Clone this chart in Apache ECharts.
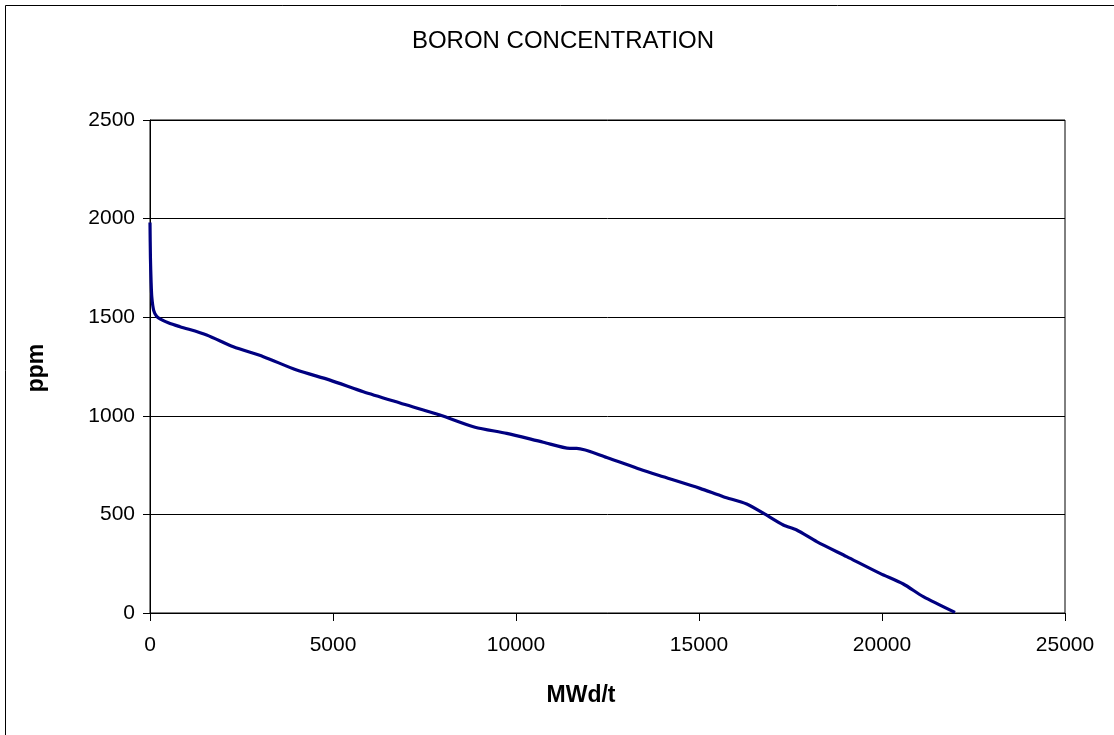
<!DOCTYPE html>
<html>
<head>
<meta charset="utf-8">
<script src="https://cdn.jsdelivr.net/npm/echarts@6/dist/echarts.min.js"></script>
<style>
html,body{margin:0;padding:0;background:#fff;}
#c{width:1114px;height:735px;}
</style>
</head>
<body>
<div id="c"></div>
<script>
const burnup = [0, 12, 30, 50, 100, 180, 273, 500, 820, 1548, 2277, 3097, 4007, 4918, 5829, 6831, 7923, 8880, 9746, 10746, 11475, 11658, 12478, 13388, 14025, 15027, 15664, 16303, 16757, 17303, 17669, 18216, 19036, 19945, 20582, 21128, 21995];
const boron = [1980, 1800, 1680, 1600, 1535, 1505, 1492, 1472, 1452, 1410, 1350, 1300, 1232, 1181, 1122, 1065, 1004, 942, 911, 866, 835, 835, 789, 729, 691, 632, 590, 553, 506, 446, 421, 362, 286, 201, 147, 83, 3];
const xTicks = [0, 5000, 10000, 15000, 20000, 25000];
const yTicks = [0, 500, 1000, 1500, 2000, 2500];

const chart = echarts.init(document.getElementById('c'));
const font = '"Liberation Sans", Arial, sans-serif';
chart.setOption({
  animation: false,
  backgroundColor: '#fff',
  textStyle: { fontFamily: font },
  grid: { left: 150, right: 49, top: 120, bottom: 122, show: true, borderColor: '#000', borderWidth: 1 },
  xAxis: {
    type: 'value', min: xTicks[0], max: xTicks[xTicks.length - 1], interval: 5000,
    axisLine: { show: true, onZero: false, lineStyle: { color: '#000', width: 1 } },
    axisTick: { show: true, length: 8, lineStyle: { color: '#000' } },
    axisLabel: { color: '#000', fontSize: 21, margin: 22, fontFamily: font, formatter: v => String(v) },
    splitLine: { show: false }
  },
  yAxis: {
    type: 'value', min: yTicks[0], max: yTicks[yTicks.length - 1], interval: 500,
    axisLine: { show: true, lineStyle: { color: '#000', width: 1 } },
    axisTick: { show: true, length: 7, lineStyle: { color: '#000' } },
    axisLabel: { color: '#000', fontSize: 21, margin: 15, fontFamily: font, formatter: v => String(v) },
    splitLine: { show: true, lineStyle: { color: '#000', width: 1 } }
  },
  graphic: [
    { type: 'rect', shape: { x: 5.5, y: 5.5, width: 1300, height: 900 }, style: { fill: 'none', stroke: '#000', lineWidth: 1 }, silent: true },
    { type: 'text', x: 563, y: 41, style: { text: 'BORON CONCENTRATION', fontSize: 24, fontFamily: font, fill: '#000', align: 'center', verticalAlign: 'middle' } },
    { type: 'text', x: 581, y: 696, style: { text: 'MWd/t', fontSize: 23, fontWeight: 'bold', fontFamily: font, fill: '#000', align: 'center', verticalAlign: 'middle' } },
    { type: 'text', x: 37, y: 368, rotation: Math.PI / 2, style: { text: 'ppm', fontSize: 23, fontWeight: 'bold', fontFamily: font, fill: '#000', align: 'center', verticalAlign: 'middle' } }
  ],
  series: [{
    type: 'line',
    data: burnup.map((b, i) => [b, boron[i]]),
    showSymbol: false,
    smooth: 0.25,
    lineStyle: { color: '#000080', width: 3.2 },
    z: 5
  }]
});
</script>
</body>
</html>
